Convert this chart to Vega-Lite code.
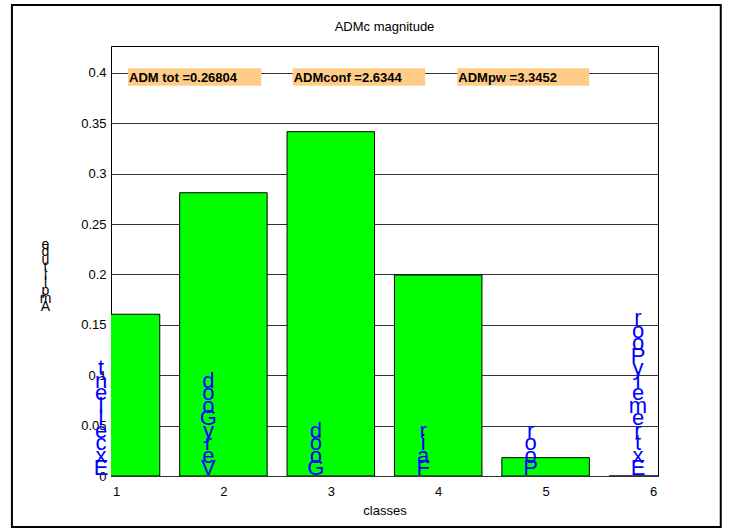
{
  "$schema": "https://vega.github.io/schema/vega-lite/v6.json",
  "width": 547,
  "height": 430,
  "autosize": "none",
  "padding": {"left": 111, "top": 46, "right": 74, "bottom": 56},
  "background": "white",
  "title": {"text": "ADMc magnitude", "fontSize": 13, "fontWeight": "normal", "font": "Liberation Sans", "color": "black", "anchor": "middle", "frame": "group", "baseline": "alphabetic", "offset": -40},
  "config": {
    "view": {"stroke": "black", "strokeWidth": 1},
    "font": "Liberation Sans",
    "axis": {"labelFont": "Liberation Sans", "titleFont": "Liberation Sans", "labelColor": "black", "titleColor": "black", "labelFontSize": 13, "titleFontSize": 13, "titleFontWeight": "normal"}
  },
  "datasets": {
    "bars": [
      {"class": 1, "amplitude": 0.1605, "label": "Excellent"},
      {"class": 2, "amplitude": 0.281, "label": "Very Good"},
      {"class": 3, "amplitude": 0.3416, "label": "Good"},
      {"class": 4, "amplitude": 0.1994, "label": "Fair"},
      {"class": 5, "amplitude": 0.0182, "label": "Poor"},
      {"class": 6, "amplitude": 0, "label": "Extremely Poor"}
    ],
    "boxes": [
      {"x1": 1.112, "x2": 2.353, "y1": 0.3872, "y2": 0.4045, "label": "ADM tot =0.26804"},
      {"x1": 2.645, "x2": 3.879, "y1": 0.3872, "y2": 0.4045, "label": "ADMconf =2.6344"},
      {"x1": 4.178, "x2": 5.406, "y1": 0.3872, "y2": 0.4045, "label": "ADMpw =3.3452"}
    ],
    "frame": [
      {"fx1": 0.0311, "fx2": 6.631, "fy1": -0.0506, "fy2": 0.4673}
    ]
  },
  "layer": [
    {
      "data": {"name": "frame"},
      "mark": {"type": "rect", "fill": null, "fillOpacity": 0, "stroke": "black", "strokeWidth": 2},
      "encoding": {
        "x": {"field": "fx1", "type": "quantitative", "scale": {"domain": [1, 6], "nice": false, "zero": false}},
        "x2": {"field": "fx2"},
        "y": {"field": "fy1", "type": "quantitative", "scale": {"domain": [0, 0.4266], "nice": false, "zero": false}},
        "y2": {"field": "fy2"}
      }
    },
    {
      "data": {"name": "bars"},
      "mark": {"type": "bar", "width": 87.5, "fill": "#00ff00", "stroke": "black", "strokeWidth": 1, "clip": true},
      "encoding": {
        "x": {"field": "class", "type": "quantitative", "scale": {"domain": [1, 6], "nice": false, "zero": false},
          "axis": {"orient": "bottom", "values": [1, 2, 3, 4, 5, 6], "format": "d", "grid": false, "domain": false, "ticks": false, "tickSize": 0, "labelPadding": 9, "labelBaseline": "top", "title": "classes", "titleBaseline": "top", "titleY": 28}},
        "y": {"field": "amplitude", "type": "quantitative", "scale": {"domain": [0, 0.4266], "nice": false, "zero": false},
          "axis": {"orient": "left", "values": [0, 0.05, 0.1, 0.15, 0.2, 0.25, 0.3, 0.35, 0.4], "format": ".2~f", "grid": true, "gridColor": "#333333", "gridOpacity": 1, "domain": false, "ticks": false, "tickSize": 0, "labelPadding": 5,
            "title": ["A", "m", "p", "l", "i", "t", "u", "d", "e"], "titleAngle": 0, "titleAlign": "center", "titleBaseline": "alphabetic", "titleX": -66, "titleY": 264, "titleLineHeight": -7.75, "titleFontSize": 14}}
      }
    },
    {
      "data": {"name": "bars"},
      "transform": [{"calculate": "split(datum.label, '')", "as": "stack"}],
      "mark": {"type": "text", "fontSize": 22, "color": "#0000ff", "lineHeight": -12.5, "baseline": "alphabetic", "align": "center", "dx": -15, "dy": -1},
      "encoding": {
        "x": {"field": "class", "type": "quantitative", "scale": {"domain": [1, 6], "nice": false, "zero": false}},
        "y": {"datum": 0, "type": "quantitative", "scale": {"domain": [0, 0.4266], "nice": false, "zero": false}},
        "text": {"field": "stack"}
      }
    },
    {
      "data": {"name": "boxes"},
      "mark": {"type": "rect", "fill": "#ffcc88", "stroke": null},
      "encoding": {
        "x": {"field": "x1", "type": "quantitative", "scale": {"domain": [1, 6], "nice": false, "zero": false}},
        "x2": {"field": "x2"},
        "y": {"field": "y1", "type": "quantitative", "scale": {"domain": [0, 0.4266], "nice": false, "zero": false}},
        "y2": {"field": "y2"}
      }
    },
    {
      "data": {"name": "boxes"},
      "mark": {"type": "text", "fontSize": 13, "fontWeight": "bold", "color": "black", "align": "left", "baseline": "alphabetic", "dx": 1, "dy": -4},
      "encoding": {
        "x": {"field": "x1", "type": "quantitative", "scale": {"domain": [1, 6], "nice": false, "zero": false}},
        "y": {"field": "y1", "type": "quantitative", "scale": {"domain": [0, 0.4266], "nice": false, "zero": false}},
        "text": {"field": "label"}
      }
    }
  ]
}
